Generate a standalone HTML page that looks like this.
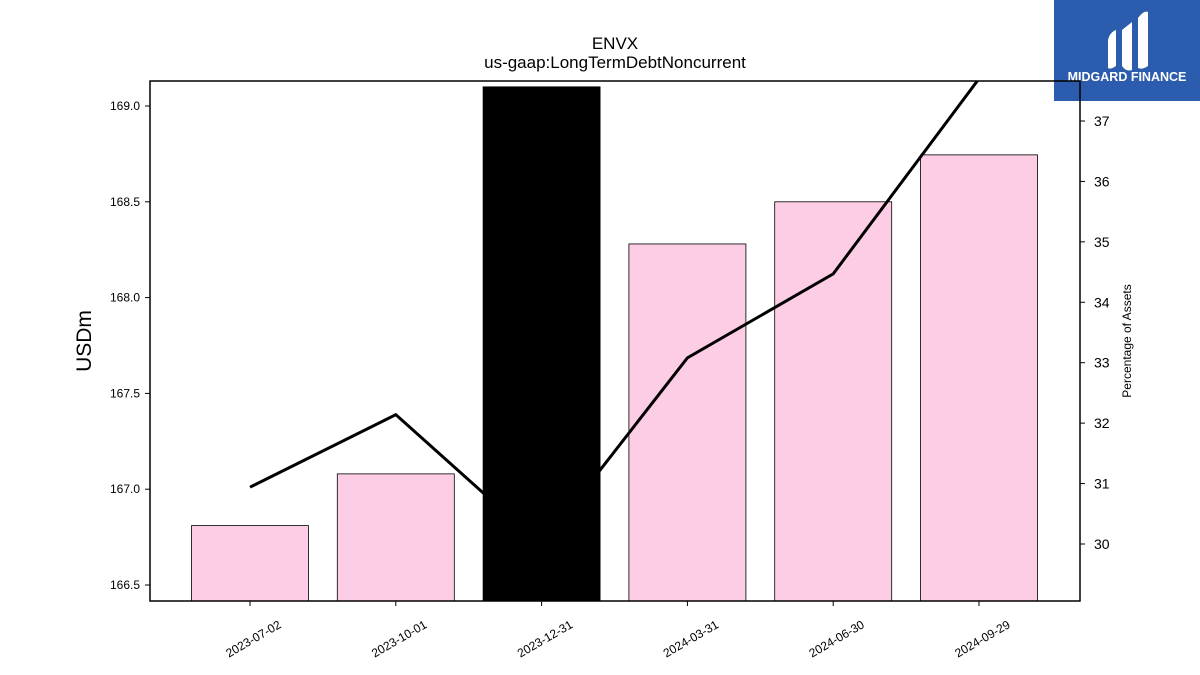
<!DOCTYPE html>
<html><head><meta charset="utf-8"><style>
body{margin:0;background:#fff;width:1200px;height:675px;overflow:hidden;font-family:"Liberation Sans","DejaVu Sans",sans-serif}
</style></head><body>
<svg id="chart" width="1200" height="675" xmlns="http://www.w3.org/2000/svg" style="position:absolute;left:0;top:0">
<g>
<rect x="1054" y="0" width="146" height="101" fill="#2b5cad"/>
<path d="M1108 40 Q1110 32 1116 30 L1116 66 Q1110 70 1108 68 Z" fill="#fff"/>
<path d="M1122 30 L1132 22 L1132 70 Q1126 72 1122 66 Z" fill="#fff"/>
<path d="M1138 18 Q1144 10 1148 12 L1148 66 Q1142 70 1138 68 Z" fill="#fff"/>
<text x="1127" y="81" text-anchor="middle" font-size="12.5" font-weight="bold" fill="#fff">MIDGARD FINANCE</text>
</g>
<text x="615" y="49" text-anchor="middle" font-size="17">ENVX</text>
<text x="615" y="68" text-anchor="middle" font-size="17">us-gaap:LongTermDebtNoncurrent</text>
<g id="bars"></g><g id="line"></g><g id="axes"></g>
<rect x="150" y="81" width="930" height="520" fill="none" stroke="#000" stroke-width="1.5"/>
<text transform="translate(91,341) rotate(-90)" text-anchor="middle" font-size="21">USDm</text>
<text transform="translate(1131,341) rotate(-90)" text-anchor="middle" font-size="12">Percentage of Assets</text>
</svg>
<script>
const categories=["2023-07-02","2023-10-01","2023-12-31","2024-03-31","2024-06-30","2024-09-29"];
const debtValues=[166.81,167.08,169.10,168.28,168.50,168.745];
const pctValues=[30.94,32.14,29.98,33.08,34.47,37.7];
const highlightIndex=2;
const leftTicks=[166.5,167.0,167.5,168.0,168.5,169.0];
const rightTicks=[30,31,32,33,34,35,36,37];
const NS="http://www.w3.org/2000/svg";
const L=150,R=1080,T=81,B=601;
const yL=v=>585-(v-166.5)/0.5*95.8;
const yR=v=>544-(v-30)*60.43;
const xC=i=>250+i*145.8;
function mk(t,a,p){const e=document.createElementNS(NS,t);for(const k in a)e.setAttribute(k,a[k]);p.appendChild(e);return e;}
const bars=document.getElementById('bars'),line=document.getElementById('line'),axes=document.getElementById('axes');
debtValues.forEach((v,i)=>{const y=yL(v);
const r=mk('rect',{x:xC(i)-58.5,y:y,width:117,height:B-y,fill:i===highlightIndex?'#000':'#fdcce5',stroke:'#000','stroke-width':0.8},bars);

});
const pl=mk('polyline',{points:pctValues.map((v,i)=>xC(i)+','+yR(v)).join(' '),fill:'none',stroke:'#000','stroke-width':3},line);


const cp=mk('clipPath',{id:'cp'},line);mk('rect',{x:L,y:T,width:R-L,height:B-T},cp);line.setAttribute('clip-path','url(#cp)');
leftTicks.forEach(v=>{const y=yL(v);mk('line',{x1:L-5,x2:L,y1:y,y2:y,stroke:'#000'},axes);
const t=mk('text',{x:L-10,y:y+4,'text-anchor':'end','font-size':12},axes);t.textContent=v.toFixed(1);

});
rightTicks.forEach(v=>{const y=yR(v);mk('line',{x1:R,x2:R+5,y1:y,y2:y,stroke:'#000'},axes);
const t=mk('text',{x:R+14,y:y+5,'font-size':14},axes);t.textContent=v;

});
categories.forEach((c,i)=>{const x=xC(i);mk('line',{x1:x,x2:x,y1:B,y2:B+5,stroke:'#000'},axes);
const t=mk('text',{transform:`translate(${x+32},${B+26}) rotate(-30)`,'text-anchor':'end','font-size':12},axes);t.textContent=c;

});
</script>
</body></html>
